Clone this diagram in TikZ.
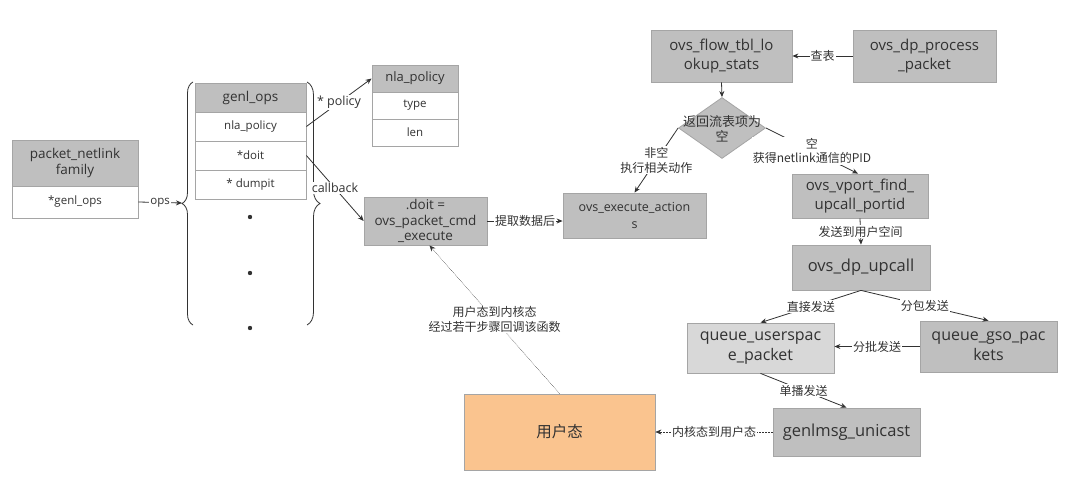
\documentclass[tikz,border=0pt]{standalone}
\usepackage{fontspec}
\setmainfont{Open Sans}
\newfontfamily\cjk{Noto Sans CJK SC}
\usetikzlibrary{arrows.meta,shapes.geometric,decorations.pathreplacing}
\definecolor{boxgray}{RGB}{191,191,191}
\definecolor{lightbox}{RGB}{216,216,216}
\definecolor{edgegray}{RGB}{165,165,165}
\definecolor{txt}{RGB}{50,50,50}
\definecolor{orangefill}{RGB}{250,196,143}
\newcommand\fs[2]{\fontsize{#1}{#2}\selectfont}
\tikzset{
  box/.style={draw=edgegray, fill=boxgray, line width=0.8pt, inner sep=0pt, align=center, text=txt},
  cell/.style={draw=edgegray, fill=white, line width=0.8pt, inner sep=0pt, align=center, text=txt},
  lbl/.style={fill=white, inner sep=1pt, text=txt, align=center, font=\cjk\fs{12}{14.5}},
  conn/.style={draw=txt, line width=0.8pt, -{Stealth[length=6pt,width=5pt]}},
  dotconn/.style={draw=txt, line width=0.5pt, densely dotted, -{Stealth[length=6pt,width=5pt]}},
  bigfont/.style={font=\fs{15}{19}},
}
\begin{document}
\begin{tikzpicture}[x=1pt,y=-1pt]
\useasboundingbox (0,0) rectangle (1066,490);
\fill[white] (0,0) rectangle (1066,490);

% packet_netlink family
\node[box, minimum width=126pt, minimum height=46pt, font=\fs{13.5}{16}] (pnh) at (75,163) {packet\_netlink\\family};
\node[cell, minimum width=126pt, minimum height=32pt, font=\fs{11.5}{14}] (pnr) at (75,202) {*genl\_ops};

% genl_ops table
\node[box, minimum width=111pt, minimum height=29pt, font=\fs{13.5}{16}] (goh) at (250.5,97.5) {genl\_ops};
\node[cell, minimum width=111pt, minimum height=29pt, font=\fs{11.5}{14}] (gonla) at (250.5,126.5) {nla\_policy};
\node[cell, minimum width=111pt, minimum height=29pt, font=\fs{11.5}{14}] (godoit) at (250.5,155.5) {*doit};
\node[cell, minimum width=111pt, minimum height=29pt, font=\fs{11.5}{14}] (godump) at (250.5,184.5) {* dumpit};
\fill[txt] (250,217) circle (2.2pt) (250,273) circle (2.2pt) (250,328) circle (2.2pt);

% braces
\draw[txt, line width=0.8pt, decorate, decoration={brace, amplitude=11pt}] (193,325) -- (193,82);
\draw[txt, line width=0.8pt, decorate, decoration={brace, amplitude=13pt}] (307,82) -- (307,325);
\coordinate (lb) at (182,203);

% nla_policy table
\node[box, minimum width=86pt, minimum height=27pt, font=\fs{13}{15}] (nph) at (415,78.5) {nla\_policy};
\node[cell, minimum width=86pt, minimum height=27pt, font=\fs{11.5}{14}] (npt) at (415,105.5) {type};
\node[cell, minimum width=86pt, minimum height=27pt, font=\fs{11.5}{14}] (npl) at (415,132.5) {len};

% main boxes
\node[box, minimum width=123pt, minimum height=48pt, font=\fs{13.5}{15.5}] (doit) at (425.5,221) {.doit =\\ovs\_packet\_cmd\\\_execute};
\node[box, minimum width=143pt, minimum height=45pt, font=\fs{12.5}{17}] (exec) at (634.5,215.5) {ovs\_execute\_action\\s};
\node[box, minimum width=141pt, minimum height=52pt, bigfont] (look) at (721.5,56) {ovs\_flow\_tbl\_lo\\okup\_stats};
\node[box, minimum width=143pt, minimum height=52pt, bigfont] (proc) at (924.5,56) {ovs\_dp\_process\\\_packet};
\node[diamond, draw=edgegray, fill=boxgray, line width=0.8pt, minimum width=87pt, minimum height=61pt, inner sep=0pt] (dia) at (722,128) {};
\node[text=txt, align=center, font=\cjk\fs{13}{15}] (diat) at (722,129) {返回流表项为\\空};
\node[box, minimum width=136pt, minimum height=44pt, bigfont] (vport) at (860,196) {ovs\_vport\_find\_\\upcall\_portid};
\node[box, minimum width=138pt, minimum height=45pt, font=\fs{16.5}{20}] (upcall) at (861,267.5) {ovs\_dp\_upcall};
\node[box, fill=lightbox, minimum width=147pt, minimum height=50pt, font=\fs{16}{20}] (qup) at (760.5,348) {queue\_userspac\\e\_packet};
\node[box, minimum width=137pt, minimum height=51pt, font=\fs{16}{20}] (gso) at (988.5,346.5) {queue\_gso\_pac\\kets};
\node[box, minimum width=147pt, minimum height=48pt, font=\fs{16.5}{20}] (gen) at (846.5,432) {genlmsg\_unicast};
\node[box, fill=orangefill, minimum width=191pt, minimum height=76pt, font=\cjk\fs{15.5}{18}] (user) at (559.5,432) {用户态};

% connectors
\draw[conn] (pnr.east) -- (lb) node[midway, lbl, font=\fs{11.5}{14}] {ops};
\draw[conn] (gonla.east) -- (nph.west) node[midway, lbl, font=\fs{12.5}{14}] {* policy};
\draw[conn] (godoit.east) -- (doit.west) node[midway, lbl, font=\fs{12.5}{14}] {callback};
\draw[conn] (doit.east) -- (doit.east -| exec.west) node[midway, lbl] {提取数据后};
\draw[conn] (proc.west) -- (look.east) node[midway, lbl] {查表};
\draw[conn] (look.south) -- (dia.north);
\draw[conn] (dia.west) -- (exec.north) node[midway, lbl] {非空\\执行相关动作};
\draw[conn] (dia.east) -- ([xshift=-2pt]vport.north) node[midway, lbl] {空\\获得netlink通信的PID};
\draw[conn] (vport.south) -- (upcall.north) node[midway, lbl] {发送到用户空间};
\draw[conn] (upcall.south) -- (qup.north) node[midway, lbl] {直接发送};
\draw[conn] (upcall.south) -- (gso.north) node[midway, lbl] {分包发送};
\draw[conn] (gso.west) -- (gso.west -| qup.east) node[midway, lbl] {分批发送};
\draw[conn] (qup.south) -- (gen.north) node[midway, lbl] {单播发送};
\draw[dotconn] (gen.west) -- (user.east) node[midway, lbl] {内核态到用户态};
\draw[dotconn] (user.north) -- ([xshift=4pt]doit.south) node[midway, lbl] {用户态到内核态\\经过若干步骤回调该函数};
\end{tikzpicture}
\end{document}
